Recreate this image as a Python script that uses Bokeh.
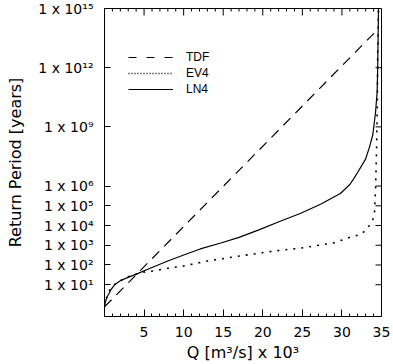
import math
from bokeh.plotting import figure
from bokeh.models import (FixedTicker, Legend, LegendItem, Range1d, ColumnDataSource,
                          CustomJSTickFormatter)
from bokeh.embed import file_html
from bokeh.resources import INLINE

# Discharge Q (x 10^3 m^3/s) and return period T (years) for each model
q_tdf = [0.0, 34.1]
t_tdf = [0.75, 5.8e13]

q_ev4 = [0.0, 0.2, 0.45, 0.76, 1.1, 1.5, 2.0, 2.8, 3.7, 4.5, 5.3, 6.2, 8.0, 10.0,
         13.0, 17.2, 21.4, 24.8, 28.9, 31.1, 32.4, 33.1, 33.6, 33.9, 34.1, 34.25,
         34.37, 34.47, 34.52, 34.62]
t_ev4 = [0.8, 1.8, 3.5, 6.3, 9.0, 12, 16, 24, 32, 40, 46, 50, 68, 89,
         160, 290, 510, 720, 1300, 2600, 3600, 6300, 1.2e4, 2.0e4, 3.7e4, 7.4e5,
         5.4e7, 1.6e10, 5.0e12, 1.0e15]

q_ln4 = [0.0, 0.15, 0.3, 0.54, 0.8, 1.1, 1.4, 2.0, 2.9, 4.4, 6.0, 8.0, 10.0, 12.1,
         14.7, 17.0, 19.5, 22.2, 24.8, 27.3, 29.8, 31.0, 31.5, 32.0, 33.0, 33.5,
         33.9, 34.25, 34.45, 34.52, 34.57, 34.62]
t_ln4 = [0.8, 1.5, 2.3, 3.4, 5.5, 8.0, 11, 16, 23, 40, 75, 160, 320, 650,
         1300, 2500, 6000, 1.66e4, 4.2e4, 1.2e5, 4.2e5, 1.2e6, 2.4e6, 5.0e6, 2.4e7, 1.0e8,
         4.0e8, 5.5e9, 6.0e10, 1.0e12, 3.0e13, 1.0e15]

x_ticks = [5, 10, 15, 20, 25, 30, 35]
x_minor_ticks = [1, 2, 3, 4, 6, 7, 8, 9, 11, 12, 13, 14, 16, 17, 18, 19, 21, 22,
                 23, 24, 26, 27, 28, 29, 31, 32, 33, 34]
y_ticks = [1e1, 1e2, 1e3, 1e4, 1e5, 1e6, 1e9, 1e12, 1e15]
y_tick_labels = ["1 x 10¹", "1 x 10²", "1 x 10³", "1 x 10⁴", "1 x 10⁵",
                 "1 x 10⁶", "1 x 10⁹", "1 x 10¹²", "1 x 10¹⁵"]

X_MIN, X_MAX = 0, 35
Y_MIN, Y_MAX = 0.245, 1e15
FONT = "DejaVu Sans"

p = figure(width=393, height=364, output_backend="svg", toolbar_location=None,
           y_axis_type="log",
           x_range=Range1d(X_MIN, X_MAX), y_range=Range1d(Y_MIN, Y_MAX),
           min_border_left=104, min_border_right=12,
           min_border_top=8, min_border_bottom=48)
p.background_fill_color = "white"
p.border_fill_color = "white"
p.outline_line_color = "black"
p.outline_line_width = 1
p.xgrid.visible = False
p.ygrid.visible = False

# curves
p.line(q_tdf, t_tdf, line_color="black", line_width=1.2, line_dash="10 7")
p.line(q_ev4, t_ev4, line_color="black", line_width=1.6, line_dash="2 6")
p.line(q_ln4, t_ln4, line_color="black", line_width=1.2)

# bottom axis
xb = p.xaxis[0]
xb.ticker = FixedTicker(ticks=x_ticks, minor_ticks=x_minor_ticks)
xb.axis_line_color = "black"
xb.major_tick_in = 7
xb.major_tick_out = 0
xb.minor_tick_in = 3
xb.minor_tick_out = 0
xb.major_tick_line_color = "black"
xb.minor_tick_line_color = "black"
xb.major_label_text_font = FONT
xb.major_label_text_font_size = "14px"
xb.major_label_text_color = "black"
xb.major_label_standoff = 10
xb.axis_label = "Q [m³/s] x 10³"
xb.axis_label_text_font = FONT
xb.axis_label_text_font_size = "16px"
xb.axis_label_text_font_style = "normal"
xb.axis_label_text_color = "black"
xb.axis_label_standoff = 3

# left axis: labels looked up from y_tick_labels
yl = p.yaxis[0]
yl.ticker = FixedTicker(ticks=y_ticks, minor_ticks=[])
yl.formatter = CustomJSTickFormatter(
    args=dict(vals=y_ticks, labs=y_tick_labels),
    code="""
        const i = vals.findIndex(v => Math.abs(Math.log10(v) - Math.log10(tick)) < 1e-6);
        return i >= 0 ? labs[i] : "";
    """)
yl.axis_line_color = "black"
yl.major_tick_in = 6
yl.major_tick_out = 0
yl.minor_tick_in = 0
yl.minor_tick_out = 0
yl.major_tick_line_color = "black"
yl.major_label_text_font = FONT
yl.major_label_text_font_size = "14px"
yl.major_label_text_color = "black"
yl.major_label_standoff = 11
yl.axis_label = "Return Period [years]"
yl.axis_label_text_font = FONT
yl.axis_label_text_font_size = "16px"
yl.axis_label_text_font_style = "normal"
yl.axis_label_text_color = "black"
yl.axis_label_standoff = 10

# mirrored tick marks on the top and right frame edges
p.ray(x=x_ticks, y=[Y_MAX] * len(x_ticks), length=7, length_units="screen",
      angle=-math.pi / 2, line_color="black", line_width=1)
p.ray(x=x_minor_ticks, y=[Y_MAX] * len(x_minor_ticks), length=3, length_units="screen",
      angle=-math.pi / 2, line_color="black", line_width=1)
p.ray(x=[X_MAX] * len(y_ticks), y=y_ticks, length=6, length_units="screen",
      angle=math.pi, line_color="black", line_width=1)

# legend samples: single-point renderers that only carry the legend line styles
leg_src = ColumnDataSource(dict(x=[q_tdf[0]], y=[t_tdf[0]]))
r_tdf = p.line("x", "y", source=leg_src, line_color="black", line_width=1.2, line_dash="8 10")
r_ev4 = p.line("x", "y", source=leg_src, line_color="black", line_width=1.4, line_dash="1 2")
r_ln4 = p.line("x", "y", source=leg_src, line_color="black", line_width=1.2)

legend = Legend(items=[LegendItem(label="TDF", renderers=[r_tdf]),
                       LegendItem(label="EV4", renderers=[r_ev4]),
                       LegendItem(label="LN4", renderers=[r_ln4])],
                location=(24, 219), orientation="vertical",
                margin=0, padding=0, spacing=0,
                glyph_width=45, glyph_height=16, label_height=16,
                label_standoff=13,
                label_text_font="Liberation Sans", label_text_font_size="12px",
                label_text_color="black",
                background_fill_alpha=0, border_line_alpha=0)
p.add_layout(legend)

open("out.html", "w").write(file_html(p, INLINE))
